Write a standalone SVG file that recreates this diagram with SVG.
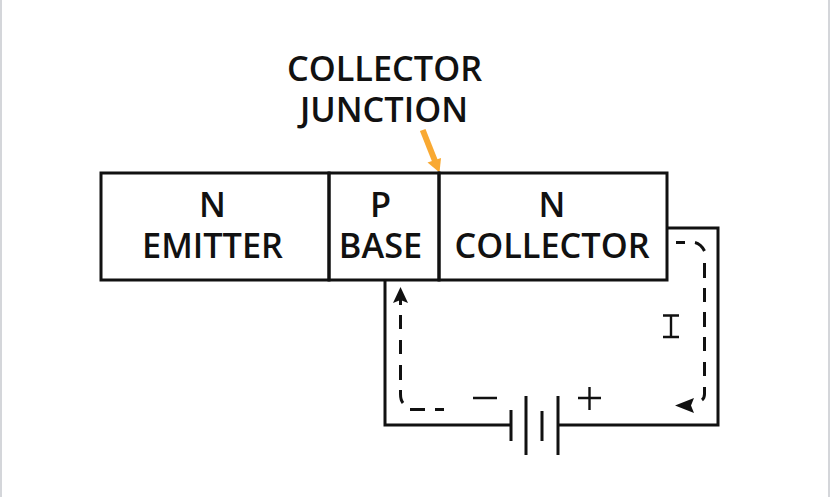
<svg xmlns="http://www.w3.org/2000/svg" width="830" height="497" viewBox="0 0 830 497">
<style>
.w{fill:none;stroke:#111;stroke-width:3}
.d{fill:none;stroke:#111;stroke-width:3}
.s{fill:none;stroke:#111;stroke-width:2.400}
.t{font-family:"Open Sans","Noto Sans",sans-serif;font-weight:600;font-size:34.300px;fill:#111;text-anchor:middle}
</style>
<rect width="830" height="497" fill="#fff"/>
<rect x="1" y="-1" width="828" height="499" fill="none" stroke="#d4d6da" stroke-width="2"/>
<g id="connectors">
<path class="w" d="M667 228H718V425H558M511 425H385V280"/>
<path class="d" d="M676 242.500H685M695 242.500Q701 244 704.500 251M704.500 263V278M704.500 288V302M704.500 312V327M704.500 337V351M704.500 362V376M704.500 387V394Q704.500 398 702 400"/>
<path d="M675 405.500L694 398L691 405.500L694 413Z" fill="#111"/>
<path class="d" d="M444 409.500H435M425 409.500H410M403 403Q400.500 400 400.500 394V390M400.500 380V365M400.500 354V340M400.500 329V315"/>
<path d="M400.500 287L408 303L400.500 300L393 303Z" fill="#111"/>
<path d="M400.500 298V305" class="d"/>
<path d="M422.700 130L435 161" fill="none" stroke="#f9a932" stroke-width="6"/>
<path d="M439.500 172.500L427.500 162.500L441 158Z" fill="#f9a932"/>
</g>
<g id="emitter"><rect class="w" x="101" y="173" width="228" height="107"/><text class="t" x="212.500" y="217">N</text><text class="t" x="212.500" y="258">EMITTER</text></g>
<g id="base"><rect class="w" x="329" y="173" width="110" height="107"/><text class="t" x="380.500" y="217">P</text><text class="t" x="380.500" y="258">BASE</text></g>
<g id="collector"><rect class="w" x="439" y="173" width="228" height="107"/><text class="t" x="552" y="217">N</text><text class="t" x="552" y="258">COLLECTOR</text></g>
<g id="label"><text class="t" x="384.500" y="81">COLLECTOR</text><text class="t" x="384" y="122">JUNCTION</text></g>
<g id="battery">
<path class="w" d="M511 410V441M526 396V455M542 411V441M558 396V455"/>
<path class="s" d="M473 398H497M578 398H601M589.500 387V410"/>
</g>
<g id="current"><path class="s" d="M663 315.500H679M663 337H679M671 315.500V337"/></g>
</svg>
